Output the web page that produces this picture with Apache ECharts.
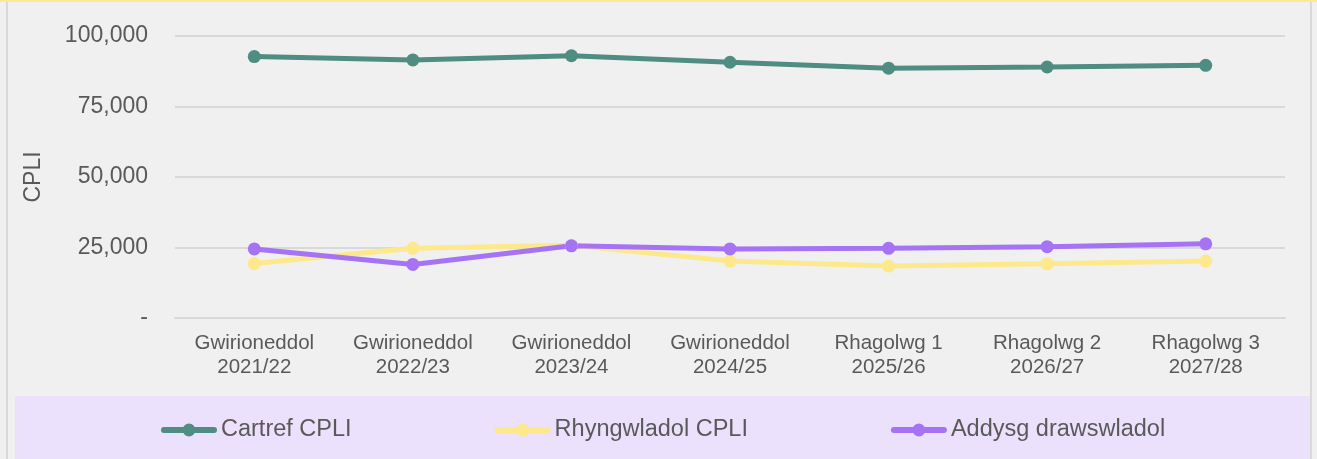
<!DOCTYPE html>
<html>
<head>
<meta charset="utf-8">
<script src="https://cdn.jsdelivr.net/npm/echarts@6/dist/echarts.min.js"></script>
<style>
  html, body { margin: 0; padding: 0; background: #f0f0f0; }
  #chart { width: 1317px; height: 459px; }
</style>
</head>
<body>
<div id="chart"></div>
<script>
// categories
var categories = [
  'Gwirioneddol\n2021/22', 'Gwirioneddol\n2022/23', 'Gwirioneddol\n2023/24',
  'Gwirioneddol\n2024/25', 'Rhagolwg 1\n2025/26', 'Rhagolwg 2\n2026/27', 'Rhagolwg 3\n2027/28'
];
// series values
var cartref = [92700, 91500, 93000, 90700, 88600, 89000, 89600];
var rhyngwladol = [19300, 24700, 25800, 20200, 18400, 19200, 20200];
var addysg = [24500, 19000, 25600, 24500, 24700, 25300, 26300];
// y ticks
var yMin = 0, yMax = 100000, yStep = 25000;

var textColor = '#595959';
var font = 'Liberation Sans';

// legend icon: thick rounded line with a dot in the middle
var legendIcon = 'path://M3,3.5 L53,3.5 A3,3 0 0 1 53,9.5 L3,9.5 A3,3 0 0 1 3,3.5 Z ' +
  'M21.5,6.5 A6.5,6.5 0 1 1 34.5,6.5 A6.5,6.5 0 1 1 21.5,6.5 Z ' +
  'M0,0 L0.01,0 L0.01,0.01 Z M56,13 L55.99,13 L55.99,12.99 Z';

var chart = echarts.init(document.getElementById('chart'));

function lineSeries(name, data, color) {
  return {
    name: name,
    type: 'line',
    data: data,
    symbol: 'circle',
    symbolSize: 13,
    lineStyle: { width: 5, color: color },
    itemStyle: { color: color },
    emphasis: { disabled: true }
  };
}

chart.setOption({
  backgroundColor: '#f0f0f0',
  animation: false,
  textStyle: { fontFamily: font, color: textColor },
  graphic: [
    // yellow strip at top edge
    { type: 'rect', left: 0, top: 0, shape: { width: 1317, height: 2 }, style: { fill: '#fde98f' }, z: -1 },
    // left / right borders
    { type: 'rect', left: 6, top: 2, shape: { width: 2, height: 457 }, style: { fill: '#d9d9d9' }, z: -1 },
    { type: 'rect', left: 1310, top: 2, shape: { width: 2, height: 457 }, style: { fill: '#d9d9d9' }, z: -1 },
    // legend box
    { type: 'rect', left: 15, top: 396, shape: { width: 1295, height: 63 }, style: { fill: '#ebe1fc' }, z: -1 }
  ],
  grid: { left: 175, right: 32, top: 36, bottom: 141 },
  legend: {
    bottom: 12,
    left: 156,
    icon: legendIcon,
    itemWidth: 56,
    itemHeight: 13,
    itemGap: 143,
    textStyle: { fontSize: 23.5, color: textColor, fontFamily: font, padding: [0, 0, 0, -1] },
    data: ['Cartref CPLI', 'Rhyngwladol CPLI', 'Addysg drawswladol']
  },
  xAxis: {
    type: 'category',
    data: categories,
    boundaryGap: true,
    axisLine: { lineStyle: { color: '#d9d9d9', width: 2 } },
    axisTick: { show: false },
    axisLabel: { fontSize: 20.5, color: textColor, lineHeight: 24, margin: 13, interval: 0 }
  },
  yAxis: {
    type: 'value',
    min: yMin, max: yMax, interval: yStep,
    name: 'CPLI',
    nameLocation: 'middle',
    nameGap: 130,
    nameTextStyle: { fontSize: 23, color: textColor },
    axisLine: { show: false },
    axisTick: { show: false },
    splitLine: { lineStyle: { color: '#d9d9d9', width: 2 } },
    axisLabel: {
      fontSize: 23, color: textColor, margin: 27,
      formatter: function (v) { return v === 0 ? '-' : v.toLocaleString('en-GB'); }
    }
  },
  series: [
    lineSeries('Cartref CPLI', cartref, '#4f8c81'),
    lineSeries('Rhyngwladol CPLI', rhyngwladol, '#fde88c'),
    lineSeries('Addysg drawswladol', addysg, '#a673f5')
  ]
});
</script>
</body>
</html>
